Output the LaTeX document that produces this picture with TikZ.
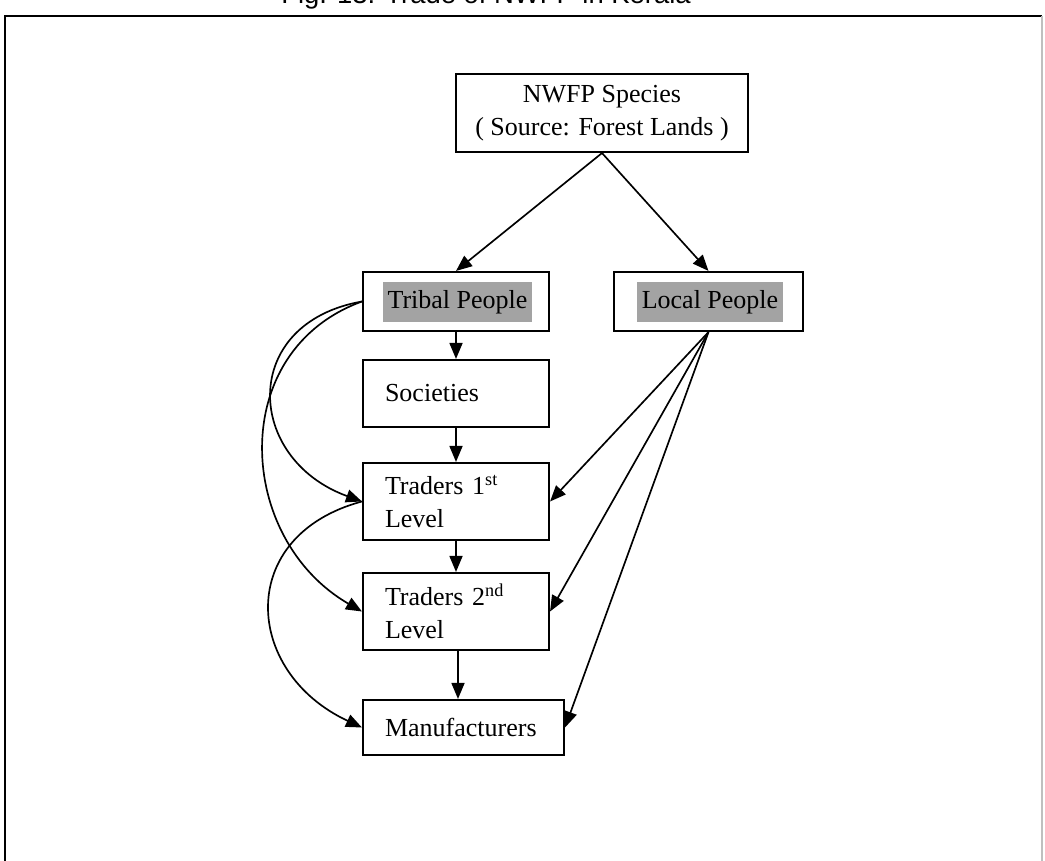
\documentclass[tikz,border=0pt]{standalone}
\usepackage{fontspec}
\setmainfont{Liberation Serif}
\newfontfamily\titlefont{Liberation Sans}
\usetikzlibrary{arrows.meta}
\begin{document}
\begin{tikzpicture}[x=0.02cm,y=-0.02cm,
  every node/.style={font=\fontsize{14.8}{18.8}\selectfont},
  box/.style={draw=black,line width=1.2pt,fill=white,inner sep=0pt},
  lbox/.style={box,align=left,inner xsep=0.44cm,text width=#1},
  hl/.style={fill=black!36,inner xsep=0.1cm,inner ysep=0pt,minimum height=0.8cm},
  arr/.style={line width=0.95pt,-{Triangle[length=0.32cm,width=0.26cm]}},
  frame/.style={line width=1.2pt}]
\useasboundingbox (0,0) rectangle (1045,861);
\clip (0,0) rectangle (1045,861);
% title (cut off at top, as in the source) and frame
\node[anchor=base,font=\titlefont\fontsize{15.6}{18}\selectfont] (title) at (486,4) {Fig. 13: Trade of NWFP in Kerala};
\coordinate (ftl) at (5,16);
\coordinate (ftr) at (1042,16);
\coordinate (fbl) at (5,870);
\coordinate (fbr) at (1042,870);
\draw[frame] (fbl) -- (ftl) -- (ftr);
\draw[line width=0.6pt,black!25] (ftr) -- (fbr);
% nodes
\node[box,align=center,minimum width=5.84cm,minimum height=1.56cm] (nwfp) at (602,113) {NWFP Species\\( Source: Forest Lands )};
\node[box,minimum width=3.72cm,minimum height=1.18cm] (tribal) at (456,301.5) {};
\node[hl] (tribaltext) at (457.5,302) {Tribal People};
\node[box,minimum width=3.78cm,minimum height=1.18cm] (local) at (708.5,301.5) {};
\node[hl] (localtext) at (710,302) {Local People};
\node[lbox=2.84cm,minimum height=1.34cm] (soc) at (456,393.5) {Societies};
\node[lbox=2.84cm,minimum height=1.54cm] (t1) at (456,501.5) {Traders 1\textsuperscript{st}\\Level};
\node[lbox=2.84cm,minimum height=1.54cm] (t2) at (456,611.5) {Traders 2\textsuperscript{nd}\\Level};
\node[lbox=3.14cm,minimum height=1.1cm] (manu) at (463.5,727.5) {Manufacturers};
% connectors
\draw[arr] (nwfp.south) -- (tribal.north);
\draw[arr] (nwfp.south) -- (local.north);
\draw[arr] (tribal.south) -- (soc.north);
\draw[arr] (soc.south) -- (t1.north);
\draw[arr] (t1.south) -- (t2.north);
\draw[arr] ([xshift=0.04cm]t2.south) -- ([xshift=0.04cm]t2.south |- manu.north);
\draw[arr] (tribal.west) to[out=190,in=160,looseness=1.6] (t1.west);
\draw[arr] (tribal.west) to[out=200,in=150,looseness=1.2] (t2.west);
\draw[arr] (t1.west) to[out=195,in=155,looseness=1.49] (manu.west);
\draw[arr] (local.south) -- (t1.east);
\draw[arr] (local.south) -- (t2.east);
\draw[arr] (local.south) -- (manu.east);
\end{tikzpicture}
\end{document}
